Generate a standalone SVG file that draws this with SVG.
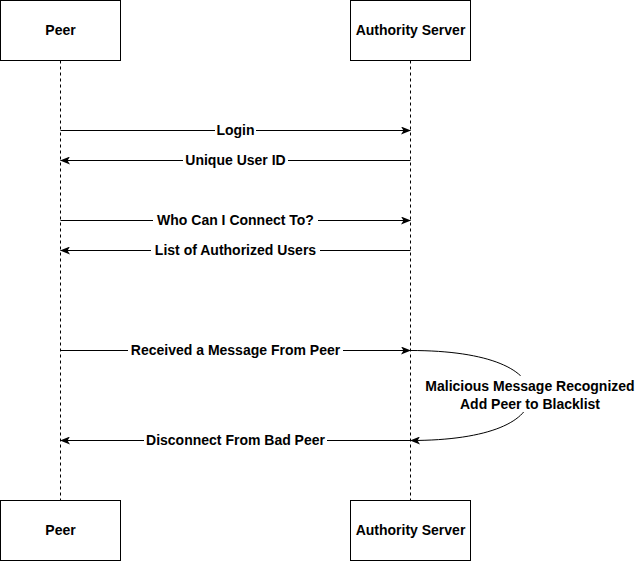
<svg xmlns="http://www.w3.org/2000/svg" width="638" height="561" viewBox="0 0 638 561">
<defs>
<marker id="arr" viewBox="0 0 10 8" refX="9.5" refY="4" markerWidth="10" markerHeight="8" markerUnits="userSpaceOnUse" orient="auto">
<path d="M0,0 L10,4 L0,8 L2.5,4 Z" fill="#000"/>
</marker>
<style>
.box{fill:#fff;stroke:#000;stroke-width:1}
.life{stroke:#000;stroke-width:1;stroke-dasharray:3 3;fill:none}
.msg{stroke:#000;stroke-width:1;fill:none;marker-end:url(#arr)}
.t{font-family:"Liberation Sans",Arial,sans-serif;font-weight:bold;font-size:14px;text-anchor:middle;fill:#000}
.bg{fill:#fff}
</style>
</defs>
<rect width="638" height="561" fill="#fff"/>
<g id="lifelines">
<line class="life" x1="60.5" y1="60.5" x2="60.5" y2="500.5"/>
<line class="life" x1="410.5" y1="60.5" x2="410.5" y2="500.5"/>
</g>
<g id="connectors">
<line class="msg" x1="60.5" y1="130.5" x2="410.5" y2="130.5"/>
<line class="msg" x1="410.5" y1="160.5" x2="60.5" y2="160.5"/>
<line class="msg" x1="60.5" y1="220.5" x2="410.5" y2="220.5"/>
<line class="msg" x1="410.5" y1="250.5" x2="60.5" y2="250.5"/>
<line class="msg" x1="60.5" y1="350.5" x2="410.5" y2="350.5"/>
<path class="msg" d="M410.5,350.5 C490,350.5 530,370 530,395.5 C530,421 490,440.5 410.5,440.5"/>
<line class="msg" x1="410.5" y1="440.5" x2="60.5" y2="440.5"/>
<rect class="bg" x="215" y="123" width="41" height="15"/>
<text class="t" x="235.5" y="134.5">Login</text>
<rect class="bg" x="183" y="153" width="105" height="15"/>
<text class="t" x="235.5" y="164.5">Unique User ID</text>
<rect class="bg" x="153" y="213" width="165" height="15"/>
<text class="t" x="235.5" y="224.5">Who Can I Connect To?</text>
<rect class="bg" x="151" y="243" width="169" height="15"/>
<text class="t" x="235.5" y="254.5">List of Authorized Users</text>
<rect class="bg" x="128" y="343" width="215" height="15"/>
<text class="t" x="235.5" y="354.5">Received a Message From Peer</text>
<rect class="bg" x="144" y="433" width="183" height="15"/>
<text class="t" x="235.5" y="444.5">Disconnect From Bad Peer</text>
<rect class="bg" x="421" y="376" width="217" height="36"/>
<text class="t" x="530" y="390.5">Malicious Message Recognized</text>
<text class="t" x="530" y="408.5">Add Peer to Blacklist</text>
</g>
<g id="peer-top">
<rect class="box" x="0.5" y="0.5" width="120" height="60"/>
<text class="t" x="60.5" y="34.5">Peer</text>
</g>
<g id="server-top">
<rect class="box" x="350.5" y="0.5" width="120" height="60"/>
<text class="t" x="410.5" y="34.5">Authority Server</text>
</g>
<g id="peer-bottom">
<rect class="box" x="0.5" y="500.5" width="120" height="60"/>
<text class="t" x="60.5" y="534.5">Peer</text>
</g>
<g id="server-bottom">
<rect class="box" x="350.5" y="500.5" width="120" height="60"/>
<text class="t" x="410.5" y="534.5">Authority Server</text>
</g>
</svg>
